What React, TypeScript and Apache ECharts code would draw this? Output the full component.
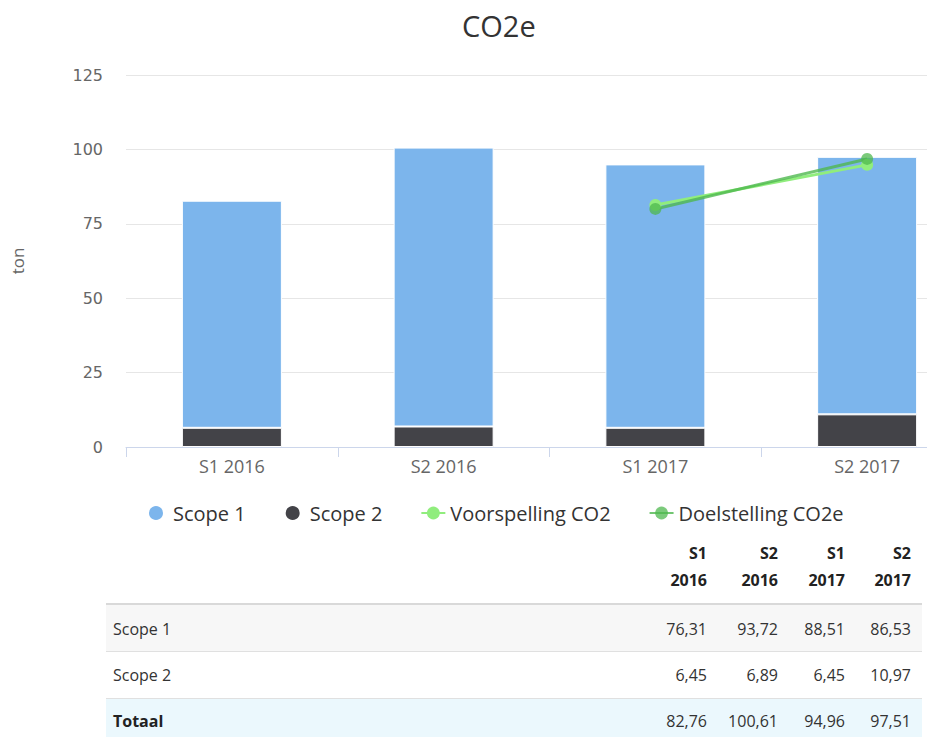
import React, { useEffect, useRef } from "react";
import * as echarts from "echarts";

const categories = ["S1 2016", "S2 2016", "S1 2017", "S2 2017"];
const headerTop = ["S1", "S2", "S1", "S2"];
const headerBottom = ["2016", "2016", "2017", "2017"];
const scope1 = [76.31, 93.72, 88.51, 86.53];
const scope2 = [6.45, 6.89, 6.45, 10.97];
const totals = [82.76, 100.61, 94.96, 97.51];
const voorspelling: (number | string)[] = ["-", "-", 81.3, 94.8];
const doelstelling: (number | string)[] = ["-", "-", 80.0, 96.8];
const yTicks = { min: 0, max: 125, interval: 25 };

const FONT = "'Open Sans', 'Noto Sans', sans-serif";
const fmt = (v: number) => v.toFixed(2).replace(".", ",");

export default function App() {
  const ref = useRef<HTMLDivElement>(null);
  useEffect(() => {
    document.body.style.margin = "0";
    if (!ref.current) return;
    const chart = echarts.init(ref.current, undefined, { renderer: "svg" });

    const colRight = [707, 778, 845, 911];
    const tableLeft = 106;
    const tableRight = 922;
    const labelX = 113;
    const graphics: any[] = [];
    graphics.push({ type: "rect", shape: { x: tableLeft, y: 605, width: tableRight - tableLeft, height: 46 }, style: { fill: "#f7f7f7" } });
    graphics.push({ type: "rect", shape: { x: tableLeft, y: 699, width: tableRight - tableLeft, height: 40 }, style: { fill: "#ebf8fd" } });
    graphics.push({ type: "rect", shape: { x: tableLeft, y: 603, width: tableRight - tableLeft, height: 2 }, style: { fill: "#d9d9d9" } });
    graphics.push({ type: "rect", shape: { x: tableLeft, y: 651, width: tableRight - tableLeft, height: 1 }, style: { fill: "#e0e0e0" } });
    graphics.push({ type: "rect", shape: { x: tableLeft, y: 698, width: tableRight - tableLeft, height: 1 }, style: { fill: "#e0e0e0" } });
    const txt = (x: number, y: number, text: string, align: string, bold = false) => ({
      type: "text",
      x,
      y,
      style: {
        text,
        fill: bold ? "#222" : "#333",
        font: `${bold ? "bold " : ""}16px ${FONT}`,
        align,
        verticalAlign: "middle",
      },
    });
    categories.forEach((_, i) => {
      graphics.push(txt(colRight[i], 553, headerTop[i], "right", true));
      graphics.push(txt(colRight[i], 580, headerBottom[i], "right", true));
      graphics.push(txt(colRight[i], 629, fmt(scope1[i]), "right"));
      graphics.push(txt(colRight[i], 675, fmt(scope2[i]), "right"));
      graphics.push(txt(colRight[i], 721, fmt(totals[i]), "right"));
    });
    graphics.push(txt(labelX, 629, "Scope 1", "left"));
    graphics.push(txt(labelX, 675, "Scope 2", "left"));
    graphics.push(txt(labelX, 721, "Totaal", "left", true));

    chart.setOption({
      animation: false,
      title: {
        text: "CO2e",
        left: 457,
        top: 6,
        textStyle: { fontFamily: FONT, fontSize: 29, fontWeight: "normal", color: "#333" },
      },
      grid: { left: 126, width: 847, top: 75, height: 372, containLabel: false },
      legend: {
        left: 142,
        top: 498,
        itemGap: 38,
        itemWidth: 24,
        itemHeight: 16,
        textStyle: { fontFamily: FONT, fontSize: 20, color: "#333" },
        data: [
          { name: "Scope 1", icon: "circle" },
          { name: "Scope 2", icon: "circle" },
          { name: "Voorspelling CO2" },
          { name: "Doelstelling CO2e" },
        ],
      },
      xAxis: {
        type: "category",
        data: categories,
        axisLine: { lineStyle: { color: "#ccd6eb" } },
        axisTick: { show: true, length: 10, lineStyle: { color: "#ccd6eb" } },
        axisLabel: { color: "#666", fontFamily: FONT, fontSize: 18, margin: 10 },
      },
      yAxis: {
        type: "value",
        min: yTicks.min,
        max: yTicks.max,
        interval: yTicks.interval,
        name: "ton",
        nameLocation: "middle",
        nameGap: 100,
        nameTextStyle: { color: "#666", fontFamily: FONT, fontSize: 17 },
        axisLine: { show: false },
        axisTick: { show: false },
        splitLine: { lineStyle: { color: "#e6e6e6" } },
        axisLabel: { color: "#666", fontFamily: "'DejaVu Sans', sans-serif", fontSize: 16, margin: 23 },
      },
      series: [
        {
          name: "Scope 2",
          type: "bar",
          stack: "total",
          barWidth: 100,
          data: scope2,
          itemStyle: { color: "#434348", borderColor: "#fff", borderWidth: 1 },
        },
        {
          name: "Scope 1",
          type: "bar",
          stack: "total",
          barWidth: 100,
          data: scope1,
          itemStyle: { color: "#7cb5ec", borderColor: "#fff", borderWidth: 1 },
        },
        {
          name: "Voorspelling CO2",
          type: "line",
          data: voorspelling,
          symbol: "circle",
          symbolSize: 12,
          lineStyle: { color: "#90ed7d", width: 3 },
          itemStyle: { color: "#90ed7d" },
        },
        {
          name: "Doelstelling CO2e",
          type: "line",
          data: doelstelling,
          symbol: "circle",
          symbolSize: 12,
          lineStyle: { color: "#4fb84f", width: 3, opacity: 0.8 },
          itemStyle: { color: "#4fb84f", opacity: 0.75 },
        },
      ],
      graphic: graphics,
    });
    return () => chart.dispose();
  }, []);
  return (
    <div style={{ width: 927, height: 737, overflow: "hidden", position: "relative" }}>
      <div ref={ref} style={{ width: 1000, height: 737 }} />
    </div>
  );
}
